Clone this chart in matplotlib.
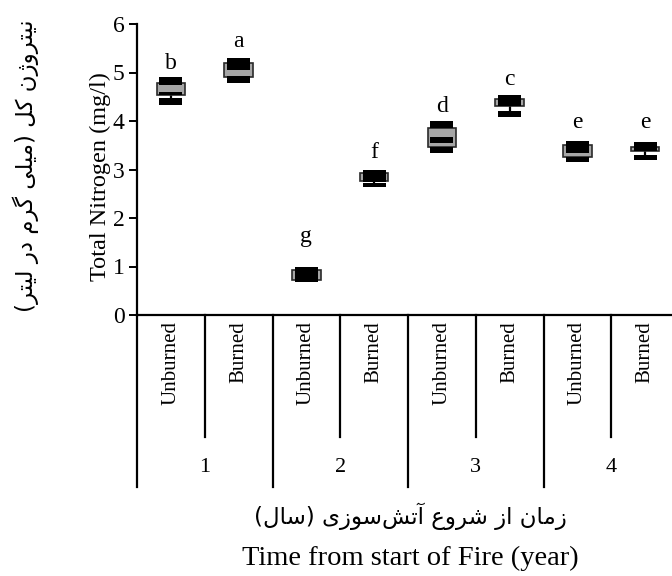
import numpy as np
import matplotlib
matplotlib.use("Agg")
import matplotlib.pyplot as plt
from matplotlib.patches import Rectangle
import matplotlib.transforms as mtransforms

# ---------------- data ----------------
groups = ['1', '2', '3', '4']
categories = ['Unburned', 'Burned', 'Unburned', 'Burned',
              'Unburned', 'Burned', 'Unburned', 'Burned']
letters = ['b', 'a', 'g', 'f', 'd', 'c', 'e', 'e']
upper_hi = [4.91, 5.29, 1.00, 3.00, 3.99, 4.54, 3.59, 3.57]
upper_lo = [4.74, 5.05, 0.85, 2.75, 3.85, 4.30, 3.35, 3.38]
box_hi = [4.78, 5.19, 0.93, 2.92, 3.85, 4.45, 3.51, 3.47]
box_lo = [4.54, 4.91, 0.72, 2.77, 3.47, 4.31, 3.26, 3.38]
mid_hi = [4.60, np.nan, np.nan, np.nan, 3.66, np.nan, np.nan, np.nan]
mid_lo = [4.54, np.nan, np.nan, np.nan, 3.54, np.nan, np.nan, np.nan]
lower_hi = [4.47, 4.93, 0.85, 2.72, 3.47, 4.21, 3.26, 3.30]
lower_lo = [4.34, 4.78, 0.69, 2.63, 3.35, 4.09, 3.15, 3.20]
letter_y = [5.08, 5.53, 1.51, 3.23, 4.19, 4.74, 3.85, 3.85]
yticks = [0, 1, 2, 3, 4, 5, 6]

ylabel_fa = "نیتروژن کل (میلی گرم در لیتر)"
ylabel_en = "Total Nitrogen (mg/l)"
xlabel_fa = "زمان از شروع آتش\u200cسوزی (سال)"
xlabel_en = "Time from start of Fire (year)"

# ------------- minimal Persian shaping -------------
FORMS = {
    '\u0627': ('\uFE8D', '\uFE8E', None, None),
    '\u0622': ('\uFE81', '\uFE82', None, None),
    '\u062A': ('\uFE95', '\uFE96', '\uFE97', '\uFE98'),
    '\u062F': ('\uFEA9', '\uFEAA', None, None),
    '\u0631': ('\uFEAD', '\uFEAE', None, None),
    '\u0632': ('\uFEAF', '\uFEB0', None, None),
    '\u0698': ('\uFB8A', '\uFB8B', None, None),
    '\u0633': ('\uFEB1', '\uFEB2', '\uFEB3', '\uFEB4'),
    '\u0634': ('\uFEB5', '\uFEB6', '\uFEB7', '\uFEB8'),
    '\u0639': ('\uFEC9', '\uFECA', '\uFECB', '\uFECC'),
    '\u06A9': ('\uFB8E', '\uFB8F', '\uFB90', '\uFB91'),
    '\u06AF': ('\uFB92', '\uFB93', '\uFB94', '\uFB95'),
    '\u0644': ('\uFEDD', '\uFEDE', '\uFEDF', '\uFEE0'),
    '\u0645': ('\uFEE1', '\uFEE2', '\uFEE3', '\uFEE4'),
    '\u0646': ('\uFEE5', '\uFEE6', '\uFEE7', '\uFEE8'),
    '\u0648': ('\uFEED', '\uFEEE', None, None),
    '\u06CC': ('\uFBFC', '\uFBFD', '\uFBFE', '\uFBFF'),
}


def shape_rtl(s):
    out = []
    n = len(s)
    for i, c in enumerate(s):
        if c == '\u200c':
            continue
        if c not in FORMS:
            out.append(c)
            continue
        f = FORMS[c]
        prev = s[i - 1] if i > 0 else ''
        nxt = s[i + 1] if i + 1 < n else ''
        jp = prev in FORMS and FORMS[prev][2] is not None
        jn = f[2] is not None and nxt in FORMS
        if jp and jn:
            out.append(f[3])
        elif jp:
            out.append(f[1])
        elif jn:
            out.append(f[2])
        else:
            out.append(f[0])
    vis = ''.join(reversed(out))
    vis = vis.replace('(', '\0').replace(')', '(').replace('\0', ')')
    return vis


SERIF = ['Liberation Serif', 'DejaVu Serif']
FA = ['DejaVu Sans']

fig = plt.figure(figsize=(6.72, 5.76), dpi=100)
L, R, T, B = 137, 679, 24, 315
W, H = 672, 576
ax = fig.add_axes([L / W, 1 - B / H, (R - L) / W, (B - T) / H])

x = np.arange(len(categories))
gw, bw = 0.42, 0.34
for i in x:
    ax.plot([i, i], [lower_lo[i], upper_hi[i]], color='black', lw=1.6,
            zorder=1, solid_capstyle='butt')
    ax.add_patch(Rectangle((i - gw / 2, box_lo[i]), gw, box_hi[i] - box_lo[i],
                           facecolor='#a6a6a6', edgecolor='#2a2a2a', lw=1.2, zorder=2))
    ax.add_patch(Rectangle((i - bw / 2, upper_lo[i]), bw, upper_hi[i] - upper_lo[i],
                           facecolor='black', edgecolor='none', zorder=3))
    ax.add_patch(Rectangle((i - bw / 2, lower_lo[i]), bw, lower_hi[i] - lower_lo[i],
                           facecolor='black', edgecolor='none', zorder=3))
    if not np.isnan(mid_hi[i]):
        ax.add_patch(Rectangle((i - bw / 2, mid_lo[i]), bw, mid_hi[i] - mid_lo[i],
                               facecolor='black', edgecolor='none', zorder=3))
    ax.text(i, letter_y[i], letters[i], ha='center', va='baseline',
            fontsize=17, family=SERIF)

ax.set_xlim(-0.5, len(categories) - 0.5)
ax.set_ylim(0, 6)
ax.set_yticks(yticks)
ax.set_yticklabels([str(t) for t in yticks], family=SERIF, fontsize=17)
ax.tick_params(axis='y', direction='out', length=6, width=1.4, pad=3)
ax.set_xticks([])
for s in ['top', 'right']:
    ax.spines[s].set_visible(False)
ax.spines['left'].set_linewidth(1.6)
ax.spines['bottom'].set_linewidth(1.6)

# category axis (two-level)
trans = mtransforms.blended_transform_factory(ax.transData, ax.transAxes)
inner_end = (B - 437) / (B - T)
outer_end = (B - 487) / (B - T)
for i, c in enumerate(categories):
    ax.text(i, (B - 321) / (B - T), c, rotation=90, ha='center', va='top',
            fontsize=15, family=SERIF, transform=trans)
for k in range(len(categories) + 1):
    xb = k - 0.5
    end = outer_end if k % 2 == 0 else inner_end
    ax.plot([xb, xb], [0, end], color='black', lw=1.6, transform=trans,
            clip_on=False)
for g, name in enumerate(groups):
    ax.text(2 * g + 0.5, (B - 467) / (B - T), name, ha='center', va='center',
            fontsize=16, family=SERIF, transform=trans)

# labels
fig.text(100 / W, 1 - 177 / H, ylabel_en, rotation=90, ha='center', va='center',
         fontsize=17.5, family=SERIF)
fig.text(26 / W, 1 - 166 / H, shape_rtl(ylabel_fa), rotation=90, ha='center',
         va='center', fontsize=16.5, family=FA)
fig.text(410 / W, 1 - 516 / H, shape_rtl(xlabel_fa), ha='center', va='center',
         fontsize=16.5, family=FA)
fig.text(410 / W, 1 - 558 / H, xlabel_en, ha='center', va='center',
         fontsize=20.5, family=SERIF)

fig.savefig('out.png', dpi=100)
